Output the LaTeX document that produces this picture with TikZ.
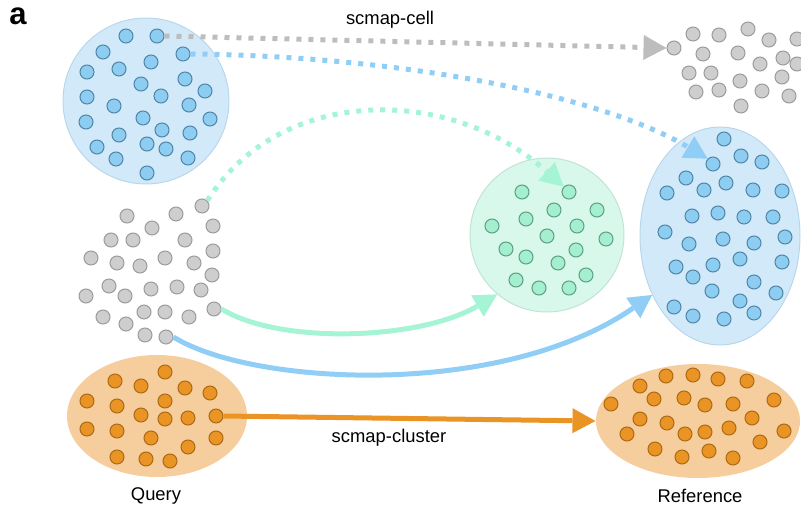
\documentclass[tikz,border=0pt]{standalone}
\usepackage{fontspec}
\setmainfont{Liberation Sans}
\usetikzlibrary{arrows.meta,shapes.geometric}

\definecolor{bluefill}{HTML}{D2E9F9}
\definecolor{blueedge}{HTML}{B9D7EC}
\definecolor{bluedot}{HTML}{8ECDF2}
\definecolor{bluedotedge}{HTML}{4F86A8}
\definecolor{greydot}{HTML}{CECECE}
\definecolor{greydotedge}{HTML}{9C9C9C}
\definecolor{mintfill}{HTML}{D7F8EA}
\definecolor{mintedge}{HTML}{C2E4D4}
\definecolor{mintdot}{HTML}{A3EFCF}
\definecolor{mintdotedge}{HTML}{5F9F83}
\definecolor{orangefill}{HTML}{F6CE9E}
\definecolor{orangedot}{HTML}{E99424}
\definecolor{orangedotedge}{HTML}{AD6A14}
\definecolor{greyarrow}{HTML}{BDBDBD}
\definecolor{bluearrow}{HTML}{90CEF6}
\definecolor{mintarrow}{HTML}{A6F4D6}

\tikzset{
  dot/.style={circle, minimum size=14pt, inner sep=0pt, line width=1pt},
  bdot/.style={dot, fill=bluedot, draw=bluedotedge},
  gdot/.style={dot, fill=greydot, draw=greydotedge},
  mdot/.style={dot, fill=mintdot, draw=mintdotedge},
  odot/.style={dot, fill=orangedot, draw=orangedotedge},
  blob/.style={inner sep=0pt, line width=1pt},
  tip/.style={-{Triangle[length=23pt, width=25pt, line width=0pt]}},
  dotted line/.style={tip, line width=5pt, dash pattern=on 5pt off 7pt},
  solid line/.style={tip, line width=5pt},
  label text/.style={font=\fontsize{18.4}{20}\selectfont}
}

\begin{document}
\begin{tikzpicture}[x=1pt, y=-1pt]
    \useasboundingbox (0,0) rectangle (801,506);

    % Flecken
    \node[blob, circle, minimum size=166pt, fill=bluefill, draw=blueedge] (qblob) at (146,101) {};
    \node[blob, circle, minimum size=154pt, fill=mintfill, draw=mintedge] (mblob) at (547,235) {};
    \node[blob, ellipse, minimum width=160pt, minimum height=218pt, fill=bluefill, draw=blueedge] (rblob) at (720,236) {};
    \node[blob, ellipse, minimum width=180pt, minimum height=122pt, fill=orangefill] (qoblob) at (157,416) {};
    \node[blob, ellipse, minimum width=204pt, minimum height=114pt, fill=orangefill] (roblob) at (698,421) {};

    % 1. Query, blau
    \foreach \x/\y [count=\i] in {126/36, 157/36, 103/52, 151/62, 183/54, 87/72, 119/69, 141/84, 185/79,
        205/91, 87/97, 161/96, 114/106, 189/105, 86/122, 143/118, 210/119, 119/135, 162/130, 190/133,
        97/147, 147/144, 166/149, 116/159, 188/158, 147/173} {
        \node[bdot] (qb\i) at (\x,\y) {};
    }

    % 2. Zellen, grau (oben rechts)
    \foreach \x/\y [count=\i] in {674/48, 693/34, 719/35, 748/29, 769/40, 797/39, 703/54, 738/53, 760/64,
        783/58, 797/64, 689/73, 711/73, 740/81, 782/77, 696/92, 719/90, 762/91, 789/96, 741/106} {
        \node[gdot] (cg\i) at (\x,\y) {};
    }

    % 3. Query, grau
    \foreach \x/\y [count=\i] in {127/216, 176/214, 202/206, 152/228, 213/226, 111/240, 133/240, 185/240,
        91/258, 117/263, 140/266, 165/258, 194/263, 213/251, 212/275, 109/286, 86/296, 125/296, 151/289,
        177/287, 201/290, 103/317, 126/324, 144/312, 165/312, 189/317, 214/309, 145/335, 166/337} {
        \node[gdot] (qg\i) at (\x,\y) {};
    }

    % 4. Cluster, gruen
    \foreach \x/\y [count=\i] in {522/192, 569/192, 554/210, 597/210, 526/219, 577/226, 492/226, 547/236,
        606/239, 506/249, 576/250, 526/257, 558/263, 586/275, 516/280, 539/288, 569/288} {
        \node[mdot] (mg\i) at (\x,\y) {};
    }

    % 5. Referenz, blau
    \foreach \x/\y [count=\i] in {724/139, 741/156, 762/162, 713/164, 686/178, 726/183, 704/190, 667/193,
        753/190, 782/191, 692/216, 718/213, 744/217, 773/217, 665/232, 689/244, 723/239, 754/243, 785/237,
        676/267, 713/265, 740/259, 782/262, 693/277, 754/282, 712/291, 776/293, 674/307, 693/316, 740/301,
        724/319, 754/313} {
        \node[bdot] (rb\i) at (\x,\y) {};
    }

    % 6. Query und Referenz, orange
    \foreach \x/\y [count=\i] in {165/372, 115/381, 141/386, 185/388, 210/393, 87/401, 117/406, 165/401,
        141/415, 165/419, 188/418, 216/416, 87/429, 117/431, 151/438, 216/438, 188/447, 117/457, 146/459,
        170/461} {
        \node[odot] (qo\i) at (\x,\y) {};
    }
    \foreach \x/\y [count=\i] in {666/376, 693/375, 718/379, 747/381, 640/386, 654/399, 684/398, 705/405,
        733/404, 774/400, 611/404, 640/419, 667/423, 752/418, 685/434, 705/432, 729/428, 784/431, 627/434,
        760/442, 655/449, 709/451, 682/457, 733/458} {
        \node[odot] (ro\i) at (\x,\y) {};
    }

    % Pfeile
    \draw[dotted line, greyarrow] (qb2.east) -- (cg1.west);
    \draw[dotted line, bluearrow] (qb5.east) .. controls (400,56) and (600,95) .. (rb4.north west);
    \draw[dotted line, mintarrow] (qg3.north east) .. controls (280,85) and (450,85) .. (mg2.north west);
    \draw[solid line, mintarrow] (qg27.east) .. controls (280,345) and (420,340) .. (mblob.230);
    \draw[solid line, bluearrow] (qg29.east) .. controls (250,385) and (500,400) .. (rblob.221);
    \draw[solid line, orangedot] (qo12.east) -- (roblob.west);

    % Beschriftung
    \node[font=\fontsize{31}{31}\selectfont\bfseries] (tag) at (18,16) {a};
    \node[label text] (cell) at (390,20) {scmap-cell};
    \node[label text] (cluster) at (389,438) {scmap-cluster};
    \node[label text] (query) at (156,496) {Query};
    \node[label text] (reference) at (700,496) {Reference};

\end{tikzpicture}
\end{document}
